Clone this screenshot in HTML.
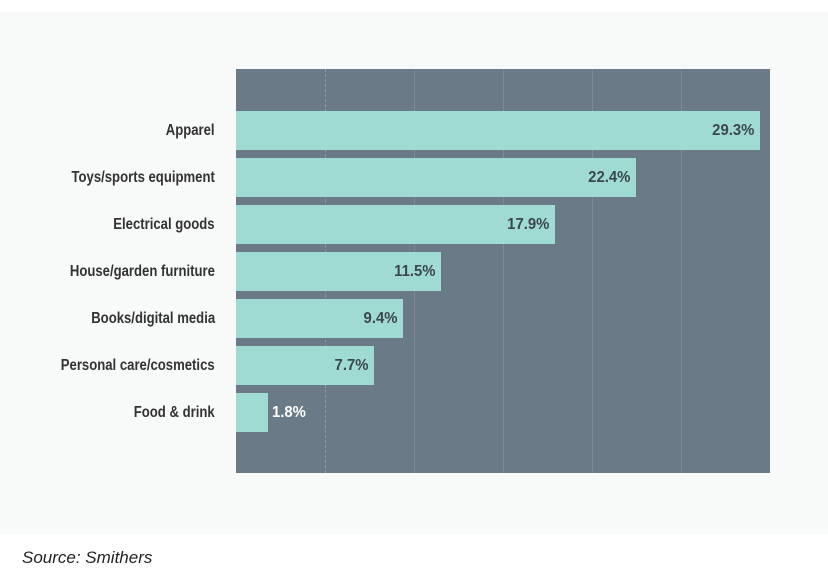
<!DOCTYPE html>
<html><head><style>
body{margin:0;width:828px;height:580px;background:#fff;position:relative;overflow:hidden;font-family:"Liberation Sans",sans-serif}
.panel{position:absolute;left:0;top:12px;width:828px;height:522px;background:#f8f9f9}
.plot{position:absolute;left:236px;top:69px;width:534px;height:404px;background:#6a7a87}
.g{position:absolute;top:0;bottom:0;width:0;border-left:1px dashed #8c9aa5}
.bar{position:absolute;left:236px;height:39px;background:#9fdbd3}
.v{position:absolute;right:6px;top:0;line-height:39px;font-weight:bold;font-size:16px;color:#3c4650;transform:scaleX(0.93);transform-origin:right center}
.lab{position:absolute;right:613px;font-weight:bold;font-size:16px;color:#333;line-height:39px;white-space:nowrap;transform:scaleX(0.82);transform-origin:right center}
.src{position:absolute;left:22px;top:548px;font-style:italic;font-size:17px;color:#222}
</style></head><body>
<div class="panel"></div>
<div class="plot">
<div class="g" style="left:89px"></div><div class="g" style="left:178px;border-left-style:solid;border-color:#7d8b96"></div><div class="g" style="left:267px;border-left-style:solid;border-color:#7d8b96"></div><div class="g" style="left:356px;border-left-style:solid;border-color:#7d8b96"></div><div class="g" style="left:445px;border-left-style:solid;border-color:#7d8b96"></div>
</div>
<div class="bar" style="top:111px;width:524px"><span class="v">29.3%</span></div>
<div class="bar" style="top:158px;width:400px"><span class="v">22.4%</span></div>
<div class="bar" style="top:205px;width:319px"><span class="v">17.9%</span></div>
<div class="bar" style="top:252px;width:205px"><span class="v">11.5%</span></div>
<div class="bar" style="top:299px;width:167px"><span class="v">9.4%</span></div>
<div class="bar" style="top:346px;width:138px"><span class="v">7.7%</span></div>
<div class="bar" style="top:393px;width:32px"><span class="v" style="right:auto;left:36px;color:#fff;transform-origin:left center">1.8%</span></div>
<div class="lab" style="top:111px">Apparel</div>
<div class="lab" style="top:158px">Toys/sports equipment</div>
<div class="lab" style="top:205px">Electrical goods</div>
<div class="lab" style="top:252px">House/garden furniture</div>
<div class="lab" style="top:299px">Books/digital media</div>
<div class="lab" style="top:346px">Personal care/cosmetics</div>
<div class="lab" style="top:393px">Food &amp; drink</div>
<div class="src">Source: Smithers</div>
</body></html>
